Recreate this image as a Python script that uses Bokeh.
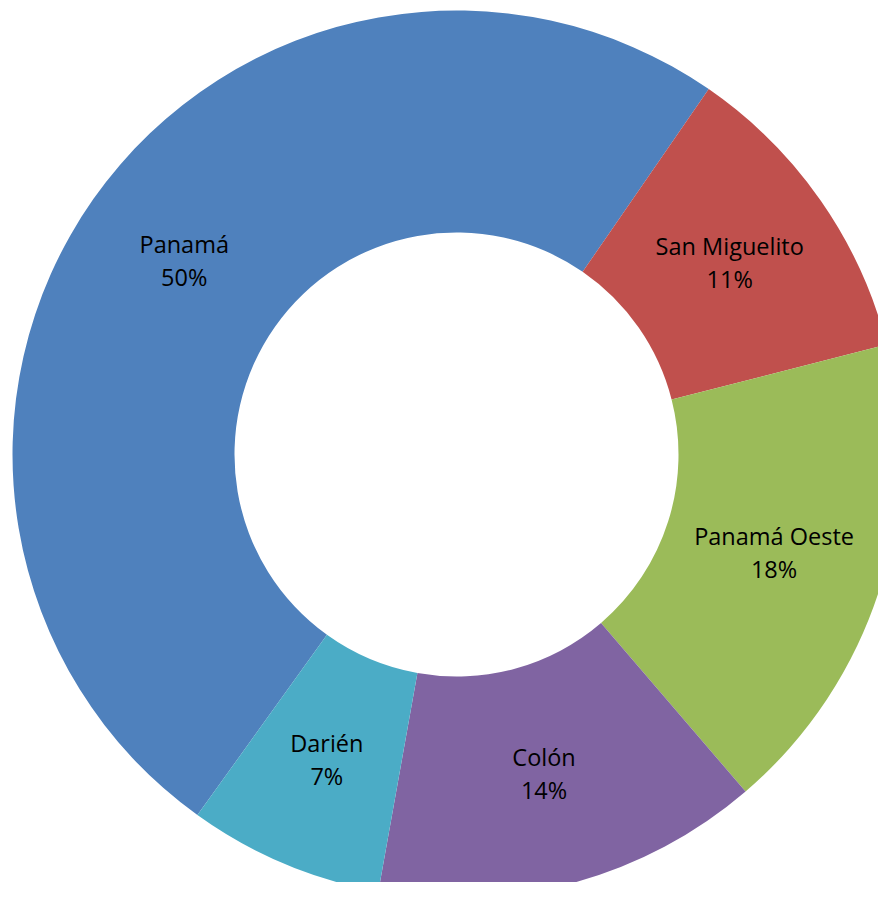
import numpy as np
from bokeh.plotting import figure
from bokeh.models import Range1d, ColumnDataSource
from bokeh.core.properties import value
from bokeh.embed import file_html
from bokeh.resources import INLINE

# Data (clockwise order, Excel-style doughnut)
categories = ["Panamá", "San Miguelito", "Panamá Oeste", "Colón", "Darién"]
shares = [49.7, 11.4, 17.7, 14.1, 7.1]
colors = ["#4F81BD", "#C0504D", "#9BBB59", "#8064A2", "#4BACC6"]
first_slice_angle = 215.7  # degrees, clockwise from 12 o'clock

W, H = 878, 882
cx, cy = 456, H - 454
r_out, r_in = 444, 222

vals = np.array(shares, dtype=float)
frac = vals / vals.sum()
cum = np.concatenate([[0], np.cumsum(frac)]) * 360.0
start_clock = first_slice_angle + cum[:-1]
end_clock = first_slice_angle + cum[1:]
# convert clockwise-from-top to math angles (counter-clockwise from +x)
start_math = np.radians(90 - start_clock)
end_math = np.radians(90 - end_clock)
mid_clock = np.radians((start_clock + end_clock) / 2)
r_mid = (r_out + r_in) / 2
lx = cx + r_mid * np.sin(mid_clock)
ly = cy + r_mid * np.cos(mid_clock) + 2
pct = [f"{round(f * 100):d}%" for f in frac]

src = ColumnDataSource(dict(start=start_math, end=end_math, color=colors,
                            lx=lx, ly=ly, name=categories, pct=pct,
                            ly1=ly + 16.5, ly2=ly - 16.5))

p = figure(width=W, height=H, output_backend="svg", toolbar_location=None,
           x_range=Range1d(0, W), y_range=Range1d(0, H), min_border=0)
p.axis.visible = False
p.grid.visible = False
p.outline_line_color = None
p.background_fill_color = "white"
p.border_fill_color = "white"

p.annular_wedge(x=cx, y=cy, inner_radius=r_in, outer_radius=r_out,
                start_angle="start", end_angle="end", direction="clock",
                fill_color="color", line_color=None, source=src)

p.text(x="lx", y="ly1", text="name", source=src, text_align="center",
       text_baseline="middle", text_font=value("Open Sans"),
       text_font_size="23.5px", text_color="black")
p.text(x="lx", y="ly2", text="pct", source=src, text_align="center",
       text_baseline="middle", text_font=value("Open Sans"),
       text_font_size="23.5px", text_color="black")

open("out.html", "w").write(file_html(p, INLINE))
